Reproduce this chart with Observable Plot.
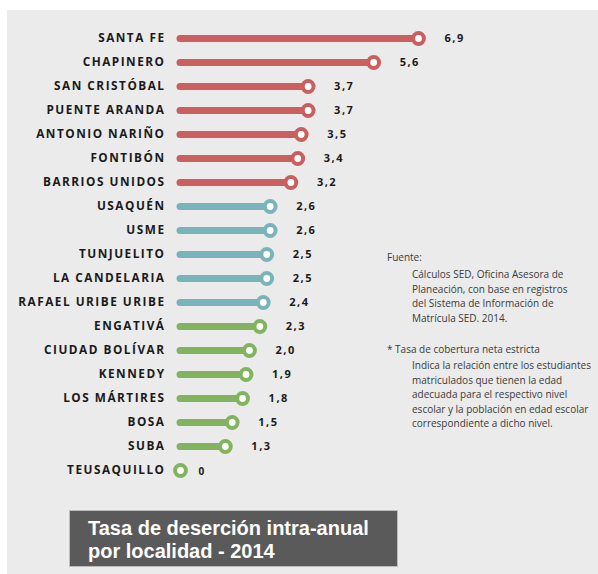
<!DOCTYPE html>
<html>
<head>
<meta charset="utf-8">
<script src="https://cdn.jsdelivr.net/npm/d3@7"></script>
<script src="https://cdn.jsdelivr.net/npm/@observablehq/plot@0.6"></script>
<style>
  html, body { margin: 0; padding: 0; background: #fff; }
  #page { position: relative; width: 598px; height: 574px; overflow: hidden; }
  #panel { position: absolute; left: 7px; top: 10px; width: 591px; height: 564px; background: #ebebeb; }
  #chart { position: absolute; left: 0; top: 0; }
  .note { position: absolute; font-family: "Open Sans", sans-serif; font-size: 10px; color: #3a3a3a; line-height: 14.6px; }
  #title { position: absolute; left: 69px; top: 510px; width: 329px; height: 57px; background: #5a5a5a;
           border: 1px solid #bcbcbc; box-sizing: border-box; }
  .tline { position: absolute; left: 88px; color: #fff; white-space: nowrap;
           font-family: "Liberation Sans", Arial, sans-serif; font-weight: 700; font-size: 20px; line-height: 20px; }
</style>
</head>
<body>
<div id="page">
  <div id="panel"></div>
  <div id="chart"></div>
  <div class="note" style="left:387px; top:250px;">Fuente:</div>
  <div class="note" style="left:412px; top:267px;">Cálculos SED, Oficina Asesora de<br>Planeación, con base en registros<br>del Sistema de Información de<br>Matrícula SED. 2014.</div>
  <div class="note" style="left:387px; top:342px;">* Tasa de cobertura neta estricta</div>
  <div class="note" style="left:412px; top:358px;">Indica la relación entre los estudiantes<br>matriculados que tienen la edad<br>adecuada para el respectivo nivel<br>escolar y la población en edad escolar<br>correspondiente a dicho nivel.</div>
  <div id="title"></div>
  <div class="tline" style="top:518px;">Tasa de deserción intra-anual</div>
  <div class="tline" style="top:541px;">por localidad - 2014</div>
</div>
<script>
const localidades = ["SANTA FE","CHAPINERO","SAN CRISTÓBAL","PUENTE ARANDA","ANTONIO NARIÑO","FONTIBÓN","BARRIOS UNIDOS","USAQUÉN","USME","TUNJUELITO","LA CANDELARIA","RAFAEL URIBE URIBE","ENGATIVÁ","CIUDAD BOLÍVAR","KENNEDY","LOS MÁRTIRES","BOSA","SUBA","TEUSAQUILLO"];
const tasas = [6.9,5.6,3.7,3.7,3.5,3.4,3.2,2.6,2.6,2.5,2.5,2.4,2.3,2.0,1.9,1.8,1.5,1.3,0];
const grupos = ["alto","alto","alto","alto","alto","alto","alto","medio","medio","medio","medio","medio","bajo","bajo","bajo","bajo","bajo","bajo","bajo"];
const grupoColores = {alto: "#c95f5f", medio: "#7ab4bb", bajo: "#82b45f"};

const data = localidades.map((n, i) => ({name: n, value: tasas[i], group: grupos[i]}));
const fmt = v => v === 0 ? "0" : v.toFixed(1).replace(".", ",");

const chart = Plot.plot({
  width: 598,
  height: 500,
  marginTop: 0, marginBottom: 0, marginLeft: 0, marginRight: 0,
  style: {background: "transparent", overflow: "visible"},
  x: {domain: [0, 6.9], range: [180, 418], axis: null},
  y: {type: "point", domain: localidades, range: [35, 473], padding: 0, axis: null},
  color: {domain: Object.keys(grupoColores), range: Object.values(grupoColores)},
  marks: [
    Plot.ruleY(data, {y: "name", x1: 0, x2: "value", stroke: "group", strokeWidth: 7, strokeLinecap: "round"}),
    Plot.dot(data, {x: "value", y: "name", r: 5.4, fill: "white", stroke: "group", strokeWidth: 4}),
    Plot.text(data, {x: 0, y: "name", text: "name", dx: -15, textAnchor: "end",
      fontFamily: "Open Sans", fontWeight: 700, fontSize: 11.8, fill: "#1a1a1a"}),
    Plot.text(data.filter(d => d.value > 0), {x: "value", y: "name", text: d => fmt(d.value), dx: 26, textAnchor: "start",
      fontFamily: "Open Sans", fontWeight: 700, fontSize: 11, fill: "#1a1a1a"}),
    Plot.text(data.filter(d => d.value === 0), {x: "value", y: "name", text: d => fmt(d.value), dx: 18, dy: 1, textAnchor: "start",
      fontFamily: "Open Sans", fontWeight: 700, fontSize: 10, fill: "#1a1a1a"})
  ]
});
chart.querySelectorAll("text").forEach(t => {
  t.style.letterSpacing = t.getAttribute("font-size") === "11.8" ? "0.9px" : "1.5px";
});
document.getElementById("chart").appendChild(chart);
</script>
</body>
</html>
